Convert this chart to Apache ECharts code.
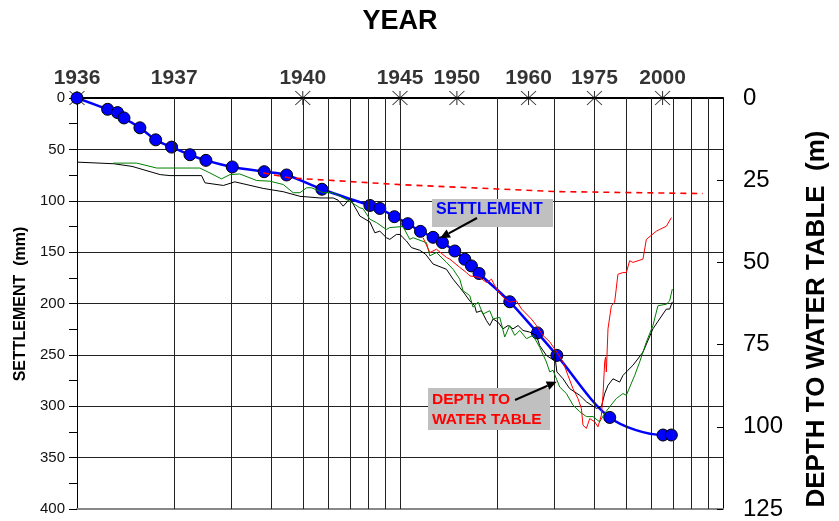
<!DOCTYPE html>
<html><head><meta charset="utf-8">
<script src="https://cdn.jsdelivr.net/npm/echarts@6/dist/echarts.min.js"></script>
<style>html,body{margin:0;padding:0;background:#fff}#c{width:839px;height:521px}</style>
</head><body><div id="c"></div>
<script>
// Time is expressed as years elapsed since 1935 (log axis from 1 to 100)
const BASE_YEAR = 1935;
const yearLabels = ['1936','1937','1940','1945','1950','1960','1975','2000'];
const yearMarked = [true, false, true, true, true, true, true, true];
const gridTimes = [2,3,4,5,6,7,8,9,10,20,30,40,50,60,70,80,90];

// Settlement (mm) measured points
const settlementT  = [1,1.244,1.335,1.398,1.566,1.752,1.963,2.237,2.507,3.025,3.798,4.455,5.73,8.07,8.66,9.61,10.57,11.57,12.66,13.53,14.78,15.87,16.64,17.57,21.87,26.64,30.6,44.6,65.2,69.2];
const settlementMM = [0,11,14.2,19.4,29,40.7,47.8,55.2,60.7,67.1,71.7,74.9,88.8,104.6,107.5,115.5,122.3,129.8,135.6,140.7,148.9,156.9,163.4,170.8,198.3,228.6,250.5,310.9,328,328];

// Projected settlement (red dashed)
const projT  = [3.77,4.56,6.06,10,19.9,29.7,86.7];
const projMM = [72.9,77.8,80.1,84.3,88.5,91.0,93.0];

// Depth to water table (m) — black well
const blackWell = [[1,19.5],[1.3,20.0],[1.48,20.8],[1.81,23.3],[1.94,23.6],[2.43,23.6],[2.49,25.8],[2.84,26.6],[3.08,25.5],[3.77,27.5],[4.35,28.5],[4.9,29.9],[5.65,30.4],[6.21,30.4],[6.44,31.1],[6.67,32.9],[6.99,30.7],[7.08,31.4],[7.42,34.9],[7.51,35.9],[8.07,37.7],[8.36,41.0],[8.66,40.5],[9.08,42.5],[9.3,43.0],[9.75,41.5],[10.0,41.5],[10.22,42.5],[10.47,43.5],[10.85,45.5],[11.51,46.3],[12.0,47.5],[12.66,50.5],[13.93,52.1],[14.6,55.1],[15.31,57.6],[15.87,59.6],[16.44,61.7],[17.03,63.2],[17.25,65.2],[17.87,64.7],[18.52,67.7],[18.96,69.2],[19.42,67.2],[20.12,68.2],[20.84,70.2],[21.6,69.2],[22.38,70.2],[23.2,69.2],[24.04,70.7],[25.21,71.2],[26.45,72.2],[27.07,75.3],[28.4,78.3],[29.77,79.6],[30.13,78.0],[30.6,83.3],[31.97,85.4],[33.52,88.4],[36.0,90.4],[37.76,92.4],[39.14,93.4],[40.55,94.4],[42.02,93.9],[43.02,89.9],[44.05,87.4],[45.64,85.4],[47.86,86.4],[49.0,84.4],[50.78,82.8],[52.62,81.3],[56.52,77.3],[60.68,70.2],[63.64,67.2],[66.77,64.2],[68.36,64.2],[69.68,62.0]];

// green well
const greenWell = [[1.295,19.8],[1.53,19.8],[1.765,21.3],[2.40,21.3],[2.58,22.8],[2.80,24.6],[2.975,23.3],[3.19,23.1],[3.6,25.1],[3.955,25.3],[4.348,26.3],[4.67,28.8],[4.9,28.8],[5.14,27.3],[5.32,27.3],[5.78,28.8],[6.21,28.8],[6.67,30.4],[6.99,31.4],[7.51,33.4],[7.69,33.7],[8.07,36.9],[8.46,37.9],[9.08,40.0],[9.3,39.4],[10.22,39.1],[10.72,43.0],[10.98,42.5],[12.08,44.0],[12.37,48.0],[12.97,47.0],[13.93,50.0],[14.6,52.1],[15.31,55.1],[15.67,58.6],[16.44,60.1],[16.83,63.6],[17.45,62.1],[18.07,65.7],[18.96,64.7],[19.42,67.2],[20.37,66.7],[21.1,72.7],[21.86,69.2],[22.66,72.2],[23.5,70.7],[24.63,73.2],[25.81,72.2],[27.07,75.8],[28.4,80.3],[29.08,83.3],[29.77,82.8],[31.22,87.9],[32.75,89.9],[34.32,93.4],[36.0,95.4],[37.76,96.9],[39.59,96.9],[41.51,98.5],[43.02,95.9],[44.6,93.9],[46.76,91.4],[49.0,89.9],[50.2,90.4],[53.27,84.4],[55.21,80.3],[57.9,74.2],[60.68,69.2],[62.88,63.2],[66.77,62.7],[68.36,61.7],[69.68,58.1]];

// red well
const redWell = [[11.79,42.5],[12.37,47.0],[12.97,46.0],[13.93,48.5],[14.26,49.0],[15.31,51.5],[16.06,53.1],[16.44,54.1],[17.66,54.6],[18.52,56.1],[19.2,55.1],[19.9,58.1],[20.84,60.6],[21.86,62.1],[22.94,61.7],[23.8,64.2],[24.63,65.7],[25.5,67.2],[26.45,69.2],[27.7,72.2],[29.1,74.2],[29.43,74.2],[30.6,77.3],[31.97,80.3],[33.12,84.4],[34.32,88.4],[35.56,91.4],[36.44,94.4],[36.86,99.5],[37.76,100.5],[38.67,97.5],[40.07,98.5],[41.02,100.0],[42.02,96.5],[42.5,90.4],[43.02,80.3],[43.3,78.8],[43.54,83.3],[44.05,70.2],[45.12,63.2],[46.19,62.1],[47.29,53.6],[49.0,53.1],[50.2,53.1],[51.4,49.5],[52.62,50.0],[56.52,49.0],[57.9,43.0],[58.57,43.0],[62.16,40.5],[63.64,40.0],[66.77,39.0],[69.18,36.4]];

const FONT = '"Liberation Sans", Arial, Helvetica, sans-serif';
const chart = echarts.init(document.getElementById('c'), null, {renderer: 'canvas'});

function arrow(x1, y1, x2, y2) {
  const dx = x2 - x1, dy = y2 - y1, L = Math.hypot(dx, dy), ux = dx / L, uy = dy / L;
  const hl = 10, hw = 4.5, bx = x2 - ux * hl, by = y2 - uy * hl;
  return [
    {type: 'line', z: 100, shape: {x1: x1, y1: y1, x2: bx, y2: by}, style: {stroke: '#000', lineWidth: 2}},
    {type: 'polygon', z: 100, shape: {points: [[x2, y2], [bx - uy * hw, by + ux * hw], [bx + uy * hw, by - ux * hw]]}, style: {fill: '#000'}}
  ];
}

const option = {
  animation: false,
  backgroundColor: '#fff',
  textStyle: {fontFamily: FONT},
  grid: {left: 77, right: 116, top: 98, bottom: 10, containLabel: false},
  xAxis: [
    {type: 'log', logBase: 10, min: 1, max: 100, position: 'bottom',
     axisLine: {show: true, onZero: false, lineStyle: {color: '#888', width: 2}},
     axisTick: {show: false}, axisLabel: {show: false}, splitLine: {show: false}, minorTick: {show: false}},
    {type: 'log', logBase: 10, min: 1, max: 100, position: 'top',
     axisLine: {show: true, onZero: false, lineStyle: {color: '#000', width: 2}},
     axisTick: {show: false}, axisLabel: {show: false}, splitLine: {show: false}, minorTick: {show: false}}
  ],
  yAxis: [
    {type: 'value', min: 0, max: 400, interval: 50, inverse: true, position: 'left',
     axisLine: {show: true, onZero: false, lineStyle: {color: '#000', width: 1}},
     axisTick: {show: true, length: 8, lineStyle: {color: '#000'}},
     minorTick: {show: true, splitNumber: 2, length: 8, lineStyle: {color: '#000'}},
     axisLabel: {fontSize: 15, color: '#111', margin: 12, fontFamily: FONT},
     splitLine: {show: true, lineStyle: {color: '#222', width: 1}}},
    {type: 'value', min: 0, max: 125, interval: 25, inverse: true, position: 'right',
     axisLine: {show: true, onZero: false, lineStyle: {color: '#000', width: 1}},
     axisTick: {show: true, inside: true, length: 6, lineStyle: {color: '#000'}},
     axisLabel: {fontSize: 24, color: '#000', margin: 20, fontFamily: FONT},
     splitLine: {show: false}}
  ],
  series: [
    {name: 'grid', type: 'line', data: [], xAxisIndex: 0, yAxisIndex: 0, silent: true, z: 1,
     markLine: {symbol: ['none', 'none'], silent: true, animation: false, label: {show: false},
       lineStyle: {color: '#222', width: 1, type: 'solid'},
       data: gridTimes.map(v => ({xAxis: v}))}},
    {name: 'years', type: 'scatter', xAxisIndex: 1, yAxisIndex: 0, silent: true, z: 3, clip: false,
     symbol: 'path://M0,0L14,14M14,0L0,14M7,0L7,14',
     itemStyle: {color: '#000', borderColor: '#000', borderWidth: 1},
     data: yearLabels.map((y, i) => ({
       value: [Number(y) - BASE_YEAR, 0],
       symbolSize: yearMarked[i] ? [15, 14] : 0,
       label: {distance: yearMarked[i] ? 2 : 9}
     })),
     label: {show: true, position: 'top', formatter: p => yearLabels[p.dataIndex],
       fontWeight: 'bold', fontSize: 21, color: '#000', fontFamily: FONT}},
    {name: 'Settlement', type: 'line', xAxisIndex: 0, yAxisIndex: 0, z: 4, clip: false,
     data: settlementT.map((t, i) => [t, settlementMM[i]]),
     smooth: 0.3, symbol: 'circle', symbolSize: 12, showSymbol: true,
     lineStyle: {color: '#0000ff', width: 2.5},
     itemStyle: {color: '#0000ff', borderColor: '#000', borderWidth: 1}},
    {name: 'Black well', type: 'line', xAxisIndex: 0, yAxisIndex: 1, z: 5, showSymbol: false, symbol: 'none',
     data: blackWell, lineStyle: {color: '#000', width: 1}},
    {name: 'Green well', type: 'line', xAxisIndex: 0, yAxisIndex: 1, z: 6, showSymbol: false, symbol: 'none',
     data: greenWell, lineStyle: {color: '#008000', width: 1}},
    {name: 'Red well', type: 'line', xAxisIndex: 0, yAxisIndex: 1, z: 7, showSymbol: false, symbol: 'none',
     data: redWell, lineStyle: {color: '#ff0000', width: 1}},
    {name: 'Projection', type: 'line', xAxisIndex: 0, yAxisIndex: 0, z: 7, showSymbol: false, symbol: 'none',
     data: projT.map((t, i) => [t, projMM[i]]),
     lineStyle: {color: '#ff0000', width: 1.6, type: [6, 5]}}
  ],
  graphic: [
    {type: 'text', x: 400, y: 22, z: 100, style: {text: 'YEAR', font: 'bold 27px ' + FONT, fill: '#000', align: 'center', verticalAlign: 'middle'}},
    {type: 'text', x: 21, y: 304, rotation: Math.PI / 2, z: 100, style: {text: 'SETTLEMENT  (mm)', font: 'bold 16px ' + FONT, fill: '#000', align: 'center', verticalAlign: 'middle'}},
    {type: 'text', x: 817, y: 319, rotation: Math.PI / 2, z: 100, style: {text: 'DEPTH TO WATER TABLE  (m)', font: 'bold 26px ' + FONT, fill: '#000', align: 'center', verticalAlign: 'middle'}},
    {type: 'rect', z: 99, shape: {x: 432, y: 199, width: 121, height: 28}, style: {fill: '#c0c0c0'}},
    {type: 'text', x: 436, y: 210, z: 100, style: {text: 'SETTLEMENT', font: 'bold 16px ' + FONT, fill: '#0000ff', align: 'left', verticalAlign: 'middle'}},
    {type: 'rect', z: 99, shape: {x: 428, y: 388, width: 122, height: 42}, style: {fill: '#c0c0c0'}},
    {type: 'text', x: 432, y: 400, z: 100, style: {text: 'DEPTH TO', font: 'bold 15.5px ' + FONT, fill: '#ff0000', align: 'left', verticalAlign: 'middle'}},
    {type: 'text', x: 432, y: 420, z: 100, style: {text: 'WATER TABLE', font: 'bold 15.5px ' + FONT, fill: '#ff0000', align: 'left', verticalAlign: 'middle'}}
  ].concat(arrow(477, 218, 440, 238.3)).concat(arrow(515, 400, 556.7, 381.7))
};
chart.setOption(option);
</script>
</body></html>
